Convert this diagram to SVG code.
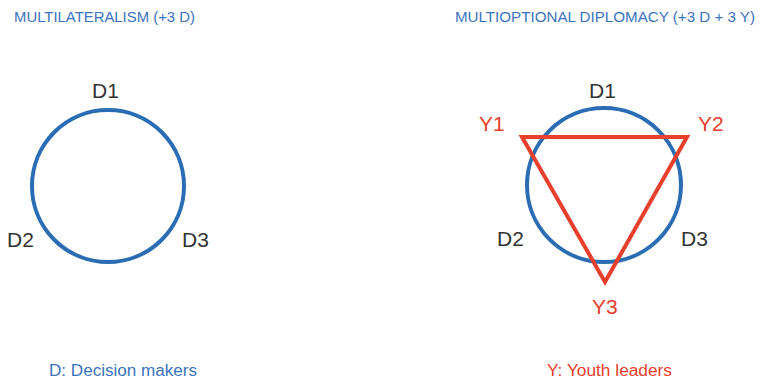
<svg xmlns="http://www.w3.org/2000/svg" width="768" height="380" viewBox="0 0 768 380">
<style>
.title{font-family:"Liberation Sans",Arial,sans-serif;font-size:15px;fill:#3b73bd}
.d{font-family:"Liberation Sans",Arial,sans-serif;font-size:21px;fill:#333333}
.y{font-family:"Liberation Sans",Arial,sans-serif;font-size:21px;fill:#e8402c}
.legd{font-family:"Liberation Sans",Arial,sans-serif;font-size:16px;fill:#3b73bd}
.legy{font-family:"Liberation Sans",Arial,sans-serif;font-size:16px;fill:#e8402c}
.circ{fill:none;stroke:#2a6db5;stroke-width:4}
.tri{fill:none;stroke:#e8402c;stroke-width:4;stroke-linejoin:miter}
</style>
<rect width="768" height="380" fill="#ffffff"/>
<text class="title" x="14" y="22" textLength="181" lengthAdjust="spacingAndGlyphs">MULTILATERALISM (+3 D)</text>
<text class="title" x="455" y="22" textLength="300" lengthAdjust="spacingAndGlyphs">MULTIOPTIONAL DIPLOMACY (+3 D + 3 Y)</text>
<g id="left-circle">
<circle class="circ" cx="108" cy="186" r="76"/>
</g>
<g id="left-D1"><text class="d" x="92" y="98">D1</text></g>
<g id="left-D2"><text class="d" x="7" y="247">D2</text></g>
<g id="left-D3"><text class="d" x="182" y="247">D3</text></g>
<g id="right-circle">
<circle class="circ" cx="604" cy="185" r="77"/>
</g>
<g id="connectors">
<polygon class="tri" points="522,137 687,137 605,282"/>
</g>
<g id="right-D1"><text class="d" x="589" y="98">D1</text></g>
<g id="right-D2"><text class="d" x="497" y="246">D2</text></g>
<g id="right-D3"><text class="d" x="681" y="246">D3</text></g>
<g id="right-Y1"><text class="y" x="479" y="131">Y1</text></g>
<g id="right-Y2"><text class="y" x="698" y="131">Y2</text></g>
<g id="right-Y3"><text class="y" x="592" y="314">Y3</text></g>
<text class="legd" x="49" y="376" textLength="148" lengthAdjust="spacingAndGlyphs">D: Decision makers</text>
<text class="legy" x="547" y="376" textLength="125" lengthAdjust="spacingAndGlyphs">Y: Youth leaders</text>
</svg>
